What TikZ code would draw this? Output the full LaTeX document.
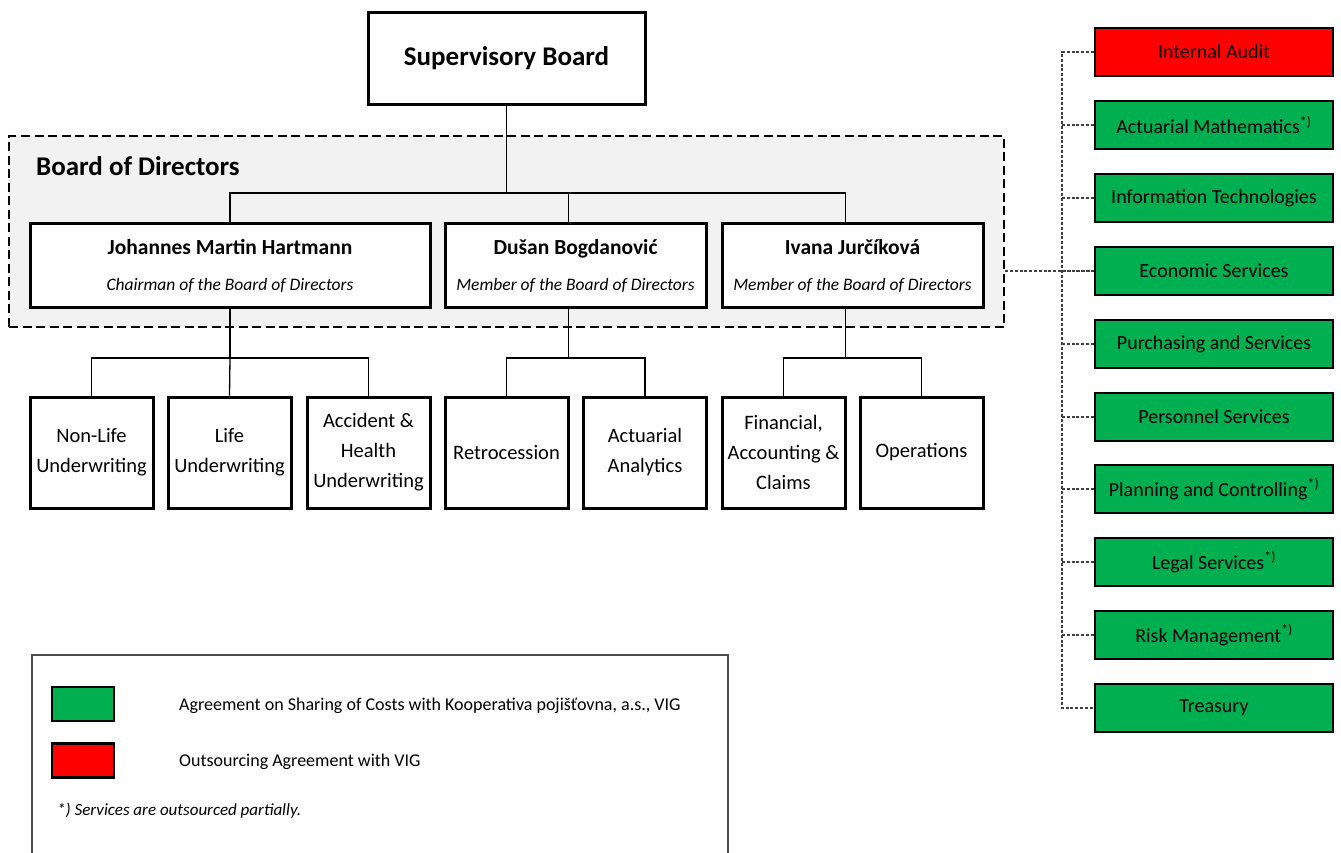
\documentclass[tikz,border=0pt]{standalone}
\usepackage{fontspec}
\setmainfont{Carlito}
\definecolor{vigreen}{HTML}{00B050}
\definecolor{vired}{HTML}{FF0000}
\definecolor{bodgray}{HTML}{F2F2F2}
\begin{document}
\begin{tikzpicture}[x=1pt,y=-1pt,
	box/.style={draw, line width=3pt, fill=white, inner sep=0pt, align=center},
	unit/.style={box, minimum width=123pt, minimum height=111pt, font=\fontsize{20.5}{30}\selectfont},
	member/.style={box, minimum width=261pt, minimum height=84pt, font=\fontsize{17.5}{20}\selectfont},
	service/.style={box, line width=2.6pt, minimum width=238pt, minimum height=48pt, fill=vigreen, font=\fontsize{20}{24}\selectfont},
	link/.style={line width=1.3pt},
	dotline/.style={line width=1.1pt, black!75, dash pattern=on 3pt off 1.8pt},
	legendbox/.style={draw, line width=2.4pt, minimum width=62pt, minimum height=34pt, inner sep=0pt}]
	\useasboundingbox (0,0) rectangle (1341,852);
	
	\node[draw, fill=bodgray, line width=2.2pt, dash pattern=on 9pt off 4.5pt, minimum width=995pt, minimum height=191pt, inner sep=0pt] (bod) at (506.5,231.5) {};
	\node[anchor=west, inner sep=0pt, font=\fontsize{27}{32}\selectfont\bfseries] (bodlabel) at (36,166) {Board of Directors};
	
	\node[box, minimum width=277pt, minimum height=92pt, font=\fontsize{27}{32}\selectfont\bfseries] (sb) at (506.5,58) {Supervisory Board};
	
	\node[member, minimum width=400pt] (jmh) at (230,265.5) {{\fontsize{21.5}{24}\selectfont\bfseries Johannes Martin Hartmann}\\[16pt]\itshape Chairman of the Board of Directors};
	\node[member] (db) at (575.5,265.5) {{\fontsize{21.5}{24}\selectfont\bfseries Dušan Bogdanović}\\[16pt]\itshape Member of the Board of Directors};
	\node[member] (ij) at (852.5,265.5) {{\fontsize{21.5}{24}\selectfont\bfseries Ivana Jurčíková}\\[16pt]\itshape Member of the Board of Directors};
	
	\node[unit] (nl) at (91.5,452.5) {Non-Life\\Underwriting};
	\node[unit] (lu) at (229.5,452.5) {Life\\Underwriting};
	\node[unit] (ah) at (368.5,452.5) {Accident \&\\Health\\Underwriting};
	\node[unit] (re) at (506.5,452.5) {Retrocession};
	\node[unit] (aa) at (645,452.5) {Actuarial\\Analytics};
	\node[unit] (fa) at (783.5,452.5) {Financial,\\Accounting \&\\Claims};
	\node[unit] (op) at (921.5,452.5) {Operations};
	
	% board lines
	\coordinate (bus) at (506.5,193);
	\coordinate (dtop) at (568.5,193);
	\coordinate (itop) at (845.5,193);
	\draw[link] (sb.south) -- (bus);
	\draw[link] (jmh.north) |- (bus) -| (itop) -- (itop |- ij.north);
	\draw[link] (dtop) -- (dtop |- db.north);
	
	\coordinate (jbus) at (230,358);
	\coordinate (dbus) at (568.5,358);
	\coordinate (ibus) at (845.5,358);
	\draw[link] (jmh.south) -- (jbus);
	\draw[link] (nl.north) |- (jbus) -| (ah.north);
	\draw[link] (jbus) -- (lu.north);
	\draw[link] (dbus |- db.south) -- (dbus);
	\draw[link] (re.north) |- (dbus) -| (aa.north);
	\draw[link] (ibus |- ij.south) -- (ibus);
	\draw[link] (fa.north) |- (ibus) -| (op.north);
	
	\node[service, fill=vired] (r1) at (1214,52) {Internal Audit};
	\node[service] (r2) at (1214,125) {Actuarial Mathematics\textsuperscript{*)}};
	\node[service] (r3) at (1214,198) {Information Technologies};
	\node[service] (r4) at (1214,271) {Economic Services};
	\node[service] (r5) at (1214,344) {Purchasing and Services};
	\node[service] (r6) at (1214,417) {Personnel Services};
	\node[service] (r7) at (1214,489) {Planning and Controlling\textsuperscript{*)}};
	\node[service] (r8) at (1214,562) {Legal Services\textsuperscript{*)}};
	\node[service] (r9) at (1214,635) {Risk Management\textsuperscript{*)}};
	\node[service] (r10) at (1214,708) {Treasury};
	
	% service lines
	\coordinate (vtop) at (1062,52);
	\coordinate (vbot) at (1062,708);
	\draw[dotline] (r1.west) -- (vtop) -- (vbot) -- (r10.west);
	\foreach \i in {2,...,9}
		\draw[dotline] (r\i.west) -- (r\i.west -| vtop);
	\draw[dotline] (bod.east |- r4.west) -- (r4.west);
	
	% legend
	\draw[line width=1.2pt, black!70] (32,860) -- (32,655) -- (728,655) -- (728,860);
	\node[legendbox, fill=vigreen] (lg) at (83,704) {};
	\node[legendbox, fill=vired] (lr) at (83,760.5) {};
	\node[anchor=west, inner sep=0pt, font=\fontsize{18}{21}\selectfont] (lgtxt) at (179,706) {Agreement on Sharing of Costs with Kooperativa pojišťovna, a.s., VIG};
	\node[anchor=west, inner sep=0pt, font=\fontsize{18}{21}\selectfont] (lrtxt) at (179,762) {Outsourcing Agreement with VIG};
	\node[anchor=west, inner sep=0pt, font=\fontsize{17}{20}\selectfont\itshape] (note) at (57,811) {*) Services are outsourced partially.};
\end{tikzpicture}
\end{document}
